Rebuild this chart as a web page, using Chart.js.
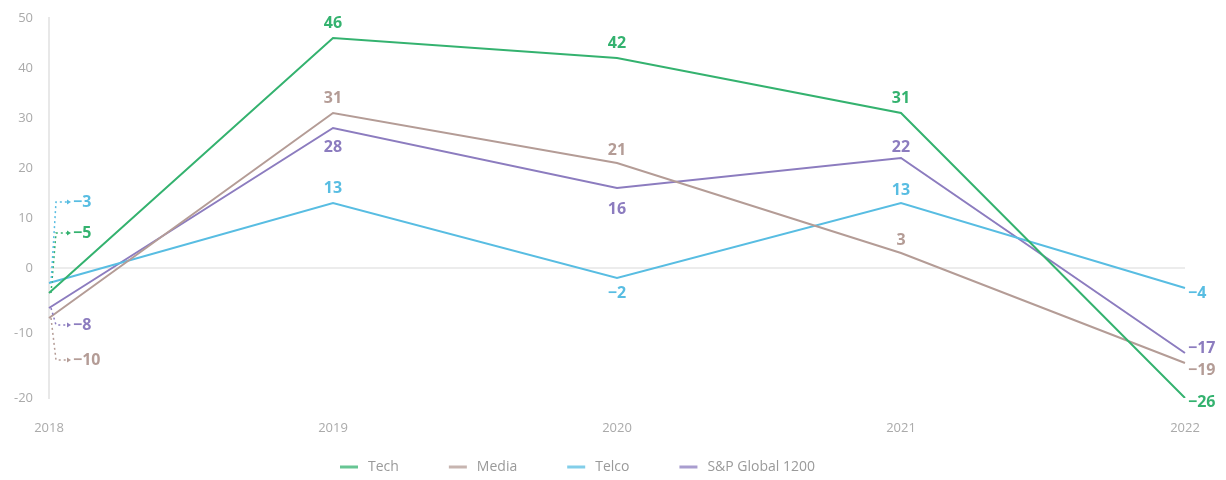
<!DOCTYPE html>
<html><head><meta charset="utf-8">
<script src="https://cdn.jsdelivr.net/npm/chart.js@4/dist/chart.umd.min.js"></script>
<style>html,body{margin:0;padding:0;background:#fff}#wrap{width:1226px;height:480px}</style>
</head><body><div id="wrap"><canvas id="c" width="1226" height="480"></canvas></div>
<script>
// ---- data ----
const categories = ['2018', '2019', '2020', '2021', '2022'];
const seriesNames = ['Tech', 'Media', 'Telco', 'S&P Global 1200'];
const techValues = [-5, 46, 42, 31, -26];
const mediaValues = [-10, 31, 21, 3, -19];
const telcoValues = [-3, 13, -2, 13, -4];
const spValues = [-8, 28, 16, 22, -17];
const yTickValues = [50, 40, 30, 20, 10, 0, -13, -26];
const yTickLabels = ['50', '40', '30', '20', '10', '0', '-10', '-20'];

// ---- styles ----
const colors = ['#34b26f', '#b49c96', '#58bde2', '#8c7cbf'];
// label placement per series per point: [mode, dy]
const labelPlacement = [
  [['lead', -60], ['c', -15], ['c', -15], ['c', -15], ['r', 4]],
  [['lead', 42], ['c', -15], ['c', -13], ['c', -13], ['r', 7]],
  [['lead', -81], ['c', -15], ['c', 15], ['c', -13], ['r', 5]],
  [['lead', 17], ['c', 19], ['c', 21], ['c', -11], ['r', -5]]
];
const FONT = "'Open Sans', 'Noto Sans', sans-serif";

const fmt = v => (v < 0 ? '\u2212' + Math.abs(v) : String(v));

const labelPlugin = {
  id: 'valueLabels',
  afterDatasetsDraw(chart) {
    const ctx = chart.ctx;
    ctx.save();
    ctx.font = 'bold 16px ' + FONT;
    ctx.textBaseline = 'middle';
    chart.data.datasets.forEach((ds, di) => {
      const meta = chart.getDatasetMeta(di);
      meta.data.forEach((pt, i) => {
        const [mode, dy] = labelPlacement[di][i];
        const txt = fmt(ds.data[i]);
        ctx.fillStyle = colors[di];
        ctx.strokeStyle = colors[di];
        if (mode === 'c') {
          ctx.textAlign = 'center';
          ctx.fillText(txt, pt.x, pt.y + dy);
        } else if (mode === 'r') {
          ctx.textAlign = 'left';
          ctx.fillText(txt, pt.x + 3, pt.y + dy);
        } else {
          const ly = pt.y + dy;
          ctx.lineWidth = 1.5;
          ctx.setLineDash([2, 3]);
          ctx.beginPath();
          ctx.moveTo(pt.x + 2, pt.y);
          ctx.lineTo(pt.x + 7, ly);
          ctx.lineTo(pt.x + 20, ly);
          ctx.stroke();
          ctx.setLineDash([]);
          ctx.beginPath();
          ctx.moveTo(pt.x + 22, ly);
          ctx.lineTo(pt.x + 18, ly - 2.5);
          ctx.lineTo(pt.x + 18, ly + 2.5);
          ctx.closePath();
          ctx.fill();
          ctx.textAlign = 'left';
          ctx.fillText(txt, pt.x + 24, ly);
        }
      });
    });
    ctx.restore();
  }
};

const legendPlugin = {
  id: 'bottomLegend',
  afterDraw(chart) {
    const ctx = chart.ctx;
    ctx.save();
    ctx.font = '14px ' + FONT;
    ctx.textBaseline = 'middle';
    ctx.textAlign = 'left';
    const y = 467;
    let x = 340;
    chart.data.datasets.forEach((ds, di) => {
      ctx.strokeStyle = ds.borderColor;
      ctx.globalAlpha = 0.75;
      ctx.lineWidth = 3;
      ctx.beginPath();
      ctx.moveTo(x, y);
      ctx.lineTo(x + 18, y);
      ctx.stroke();
      ctx.globalAlpha = 1;
      ctx.fillStyle = '#9a9a9a';
      ctx.fillText(ds.label, x + 28, y);
      x += 28 + ctx.measureText(ds.label).width + 50;
    });
    ctx.restore();
  }
};

const valueSets = [techValues, mediaValues, telcoValues, spValues];

new Chart(document.getElementById('c'), {
  type: 'line',
  data: {
    labels: categories,
    datasets: valueSets.map((vals, i) => ({
      label: seriesNames[i],
      data: vals,
      borderColor: colors[i],
      backgroundColor: colors[i],
      borderWidth: 2,
      pointRadius: 0,
      tension: 0,
      fill: false
    }))
  },
  options: {
    responsive: false,
    animation: false,
    layout: { padding: { top: 18, right: 41, left: 0, bottom: 0 } },
    plugins: { legend: { display: false }, tooltip: { enabled: false }, title: { display: false } },
    scales: {
      x: {
        offset: false,
        grid: { display: false, drawTicks: false },
        border: { display: false },
        ticks: { color: '#aaaaaa', font: { size: 13, family: FONT }, padding: 22, maxRotation: 0, autoSkip: false },
        afterFit(s) { s.height = 82; s.paddingLeft = 0; s.paddingRight = 0; }
      },
      y: {
        min: -26,
        max: 50,
        afterBuildTicks(s) { s.ticks = yTickValues.map(v => ({ value: v })); },
        ticks: {
          callback: (v, i) => yTickLabels[i],
          color: '#aaaaaa',
          font: { size: 13, family: FONT },
          padding: 16
        },
        grid: {
          drawTicks: false,
          lineWidth: 2,
          color: c => (c.tick && c.tick.value === 0 ? '#ececec' : 'rgba(0,0,0,0)')
        },
        border: { display: true, color: '#e8e8e8', width: 2 },
        afterFit(s) { s.width = 49; s.paddingTop = 0; s.paddingBottom = 0; }
      }
    }
  },
  plugins: [labelPlugin, legendPlugin]
});
</script>
</body></html>
